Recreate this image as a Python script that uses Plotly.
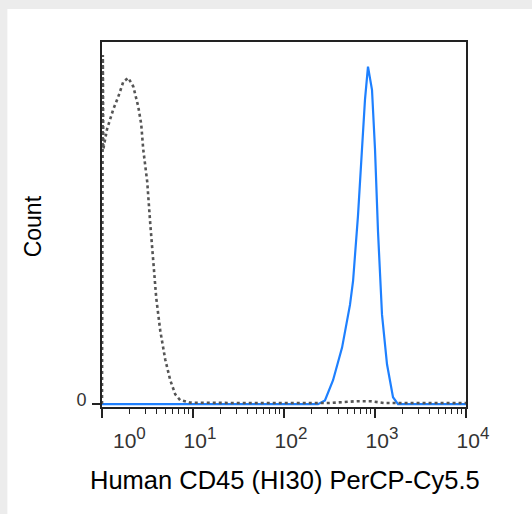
import plotly.graph_objects as go

# isotype control (dotted) - log10 intensity and count
ctrl_log = [0.0, 0.009, 0.014, 0.055, 0.124, 0.179, 0.234, 0.289, 0.344, 0.398, 0.431,
            0.453, 0.497, 0.530, 0.563, 0.596, 0.640, 0.695, 0.750, 0.805, 0.859, 0.97,
            1.5, 2.0, 2.5, 2.8, 2.95, 3.1, 3.5, 4.0]
ctrl_cnt = [0.0, 96.4, 70.4, 75.9, 81.4, 84.9, 89.0, 90.1, 87.7, 82.2, 77.3,
            70.4, 61.4, 49.9, 38.4, 29.3, 20.3, 12.3, 6.6, 2.7, 1.1, 0.4,
            0.3, 0.3, 0.3, 0.8, 0.8, 0.3, 0.3, 0.3]

# CD45 stained (blue)
cd45_log = [0.0, 2.374, 2.45, 2.539, 2.638, 2.725, 2.759, 2.813, 2.857, 2.890, 2.923,
            2.967, 3.0, 3.033, 3.077, 3.132, 3.198, 3.253, 4.0]
cd45_cnt = [0.0, 0.0, 1.0, 6.6, 15.6, 27.4, 34.0, 52.0, 70.4, 84.1, 93.2,
            86.8, 70.4, 47.7, 24.7, 11.0, 1.9, 0.0, 0.0]

x_tick_vals = [1, 10, 100, 1000, 10000]
x_tick_exp = ["0", "1", "2", "3", "4"]
x_minor_vals = [m * d for d in [1, 10, 100, 1000] for m in range(2, 10)]

x_tick_text = [("\u00a0" * 7 if i == 0 else "") +
               "10<sup><span style='font-size:17px'>" + e + "</span></sup>"
               for i, e in enumerate(x_tick_exp)]

x_title = "Human CD45 (HI30) PerCP-Cy5.5"
y_title = "Count"

fig = go.Figure()
fig.add_trace(go.Scatter(x=[10 ** v for v in cd45_log], y=cd45_cnt, mode="lines",
                         line=dict(color="rgb(30,128,255)", width=2.2), showlegend=False))
fig.add_trace(go.Scatter(x=[10 ** v for v in ctrl_log], y=ctrl_cnt, mode="lines",
                         line=dict(color="#555555", width=2.6, dash="dot"), showlegend=False))

font = "Liberation Sans, Arial, sans-serif"
L, T, R, B = 101.7, 42, 466, 407
W, H = R - L, B - T
fig.update_layout(
    width=532, height=514,
    margin=dict(l=L, r=532 - R, t=T, b=514 - B),
    paper_bgcolor="#ececec", plot_bgcolor="white",
    font=dict(family=font, color="#111111"),
    shapes=[dict(type="rect", xref="paper", yref="paper", x0=(7 - L) / W, x1=1.5,
                 y0=-0.5, y1=(B - 9) / H, fillcolor="white", line=dict(width=0), layer="below")],
    xaxis=dict(type="log", range=[0, 4], tickvals=x_tick_vals, ticktext=x_tick_text,
               showline=True, linecolor="#222222", linewidth=2, mirror=True,
               ticks="outside", ticklen=9, tickwidth=1.5, tickcolor="#222222",
               ticklabelshift=7, ticklabelstandoff=5,
               minor=dict(tickvals=x_minor_vals, ticks="outside", ticklen=5, tickwidth=1.2,
                          tickcolor="#222222", showgrid=False),
               showgrid=False, zeroline=False,
               tickfont=dict(size=21, color="#333333", family=font)),
    yaxis=dict(range=[-0.8, 100], tickvals=[0], ticktext=["0"],
               showline=True, linecolor="#222222", linewidth=2, mirror=True,
               ticks="outside", ticklen=8, tickwidth=1.5, tickcolor="#222222",
               ticklabelshift=-4, ticklabelstandoff=2,
               showgrid=False, zeroline=False,
               tickfont=dict(size=18, color="#333333", family=font)),
    annotations=[
        dict(text=x_title, xref="paper", yref="paper", x=(285 - L) / W, y=(B - 480) / H,
             showarrow=False, font=dict(size=25.5, color="black", family=font),
             xanchor="center", yanchor="middle"),
        dict(text=y_title, xref="paper", yref="paper", x=(33 - L) / W, y=(B - 226) / H,
             showarrow=False, textangle=-90, font=dict(size=23, color="black", family=font),
             xanchor="center", yanchor="middle"),
    ],
)

fig.write_html("out.html", config={"displayModeBar": False},
               post_script="document.body.style.margin='0';document.body.style.background='#ececec';")
